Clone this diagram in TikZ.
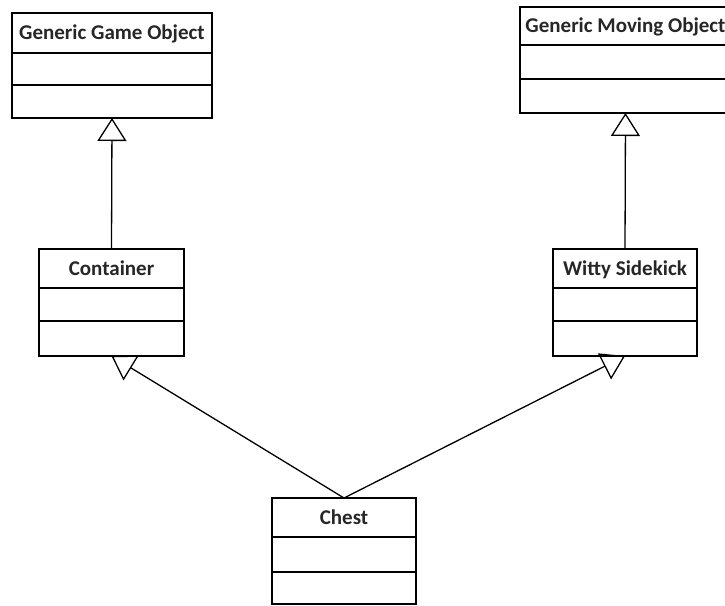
\documentclass[tikz,border=0pt]{standalone}
\usepackage{fontspec}
\setmainfont{Carlito}
\usetikzlibrary{arrows.meta}
\newcommand\umlclass[8]{%
  \node[clsbox, minimum width=#3pt, minimum height=#5pt, anchor=north] (#1) at (#2,#4) {#8};
  \node[clsbox, minimum width=#3pt, minimum height=#6pt, anchor=north] (#1-a) at (#1.south) {};
  \node[clsbox, minimum width=#3pt, minimum height=#7pt, anchor=north] (#1-b) at (#1-a.south) {};
}
\begin{document}
\begin{tikzpicture}[x=1pt,y=-1pt,
  clsbox/.style={draw, line width=1.4pt, inner sep=0pt, outer sep=0pt,
    font=\fontsize{21}{24}\selectfont\bfseries, text=black!85, text height=13.2pt, text depth=0pt},
  inh/.style={line width=1.3pt, -{Triangle[open, length=23pt, width=29pt, line width=1.3pt]}}]
\useasboundingbox (0,0) rectangle (725,605);
\clip (0,0) rectangle (725,605);
\umlclass{gg}{112}{200}{13}{40}{32}{33}{Generic Game Object}
\umlclass{gm}{625.5}{211}{7}{38}{34}{34}{Generic Moving Object}
\umlclass{cont}{111.5}{145}{249}{39}{33}{35}{Container}
\umlclass{wit}{625}{144}{249}{39}{33}{35}{Witty Sidekick}
\umlclass{ch}{344}{144}{498}{39}{35}{32}{Chest}
\draw[inh] (cont.north) -- (gg-b.south);
\draw[inh] (wit.north) -- (gm-b.south);
\draw[inh] (ch.north) -- (cont-b.south);
\draw[inh] (ch.north) -- (wit-b.south);
\end{tikzpicture}
\end{document}
